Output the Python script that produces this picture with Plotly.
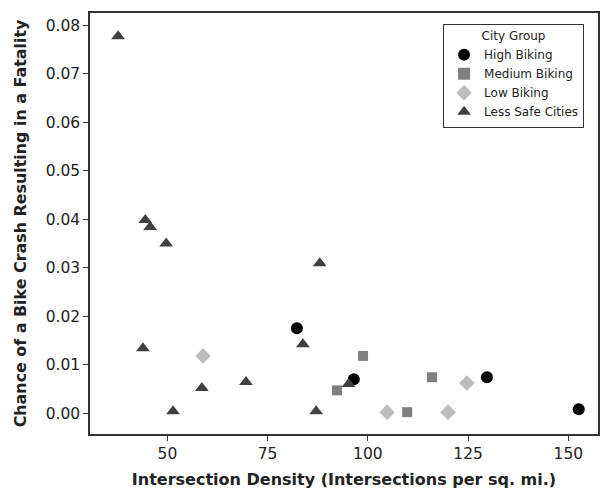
import plotly.graph_objects as go

# Data
high_x = [82.3, 96.5, 129.7, 152.6]
high_y = [0.0175, 0.0070, 0.0074, 0.0008]

medium_x = [98.8, 92.3, 109.8, 116.0]
medium_y = [0.0118, 0.0047, 0.0002, 0.0074]

low_x = [58.9, 104.8, 120.0, 124.7]
low_y = [0.0118, 0.0002, 0.0002, 0.0062]

less_x = [37.7, 44.5, 45.7, 49.7, 88.0, 43.9, 83.8, 58.6, 69.6, 51.4, 87.1, 95.2]
less_y = [0.0777, 0.0398, 0.0384, 0.0350, 0.0309, 0.0134, 0.0142, 0.0052, 0.0064, 0.0004, 0.0004, 0.0060]

x_ticks = [50, 75, 100, 125, 150]
y_ticks = [0.00, 0.01, 0.02, 0.03, 0.04, 0.05, 0.06, 0.07, 0.08]

FONT = "DejaVu Sans"

fig = go.Figure()
fig.add_trace(go.Scatter(x=high_x, y=high_y, mode="markers", name="High Biking",
                         marker=dict(symbol="circle", size=12, color="#000000")))
fig.add_trace(go.Scatter(x=medium_x, y=medium_y, mode="markers", name="Medium Biking",
                         marker=dict(symbol="square", size=10, color="#808080")))
fig.add_trace(go.Scatter(x=low_x, y=low_y, mode="markers", name="Low Biking",
                         marker=dict(symbol="diamond", size=12, color="#bdbdbd")))
fig.add_trace(go.Scatter(x=less_x, y=less_y, mode="markers", name="Less Safe Cities",
                         marker=dict(symbol="triangle-up", size=12, color="#404040")))

axis_common = dict(showline=True, linecolor="#333333", linewidth=1.5, mirror=True,
                   ticks="outside", ticklen=5, tickcolor="#333333", showgrid=False,
                   zeroline=False, automargin=False,
                   tickfont=dict(family=FONT, size=15.5, color="#222222"))

# The page body adds an 8px offset, so the figure is 8px smaller on each side
fig.update_layout(
    width=601, height=481,
    margin=dict(l=82, r=11, t=5, b=55, autoexpand=False),
    paper_bgcolor="white", plot_bgcolor="white",
    font=dict(family=FONT, color="#222222"),
    xaxis=dict(range=[30.7, 157.4], tickvals=x_ticks, ticktext=[str(v) for v in x_ticks],
               title=dict(text="<b>Intersection Density (Intersections per sq. mi.)</b>",
                          font=dict(family=FONT, size=16), standoff=12),
               **axis_common),
    yaxis=dict(range=[-0.0043, 0.0825], tickvals=y_ticks, tickformat=".2f",
               title=dict(text="<b>Chance of a Bike Crash Resulting in a Fatality</b>",
                          font=dict(family=FONT, size=15.9)),
               **axis_common),
    legend=dict(x=0.695, y=0.975, xanchor="left", yanchor="top",
                bordercolor="#333333", borderwidth=1, bgcolor="white",
                font=dict(family=FONT, size=12, color="#222222"),
                title=dict(text="City Group", side="top center",
                           font=dict(family=FONT, size=12)),
                tracegroupgap=0, itemsizing="constant"),
    showlegend=True,
)

fig.write_html("out.html")
